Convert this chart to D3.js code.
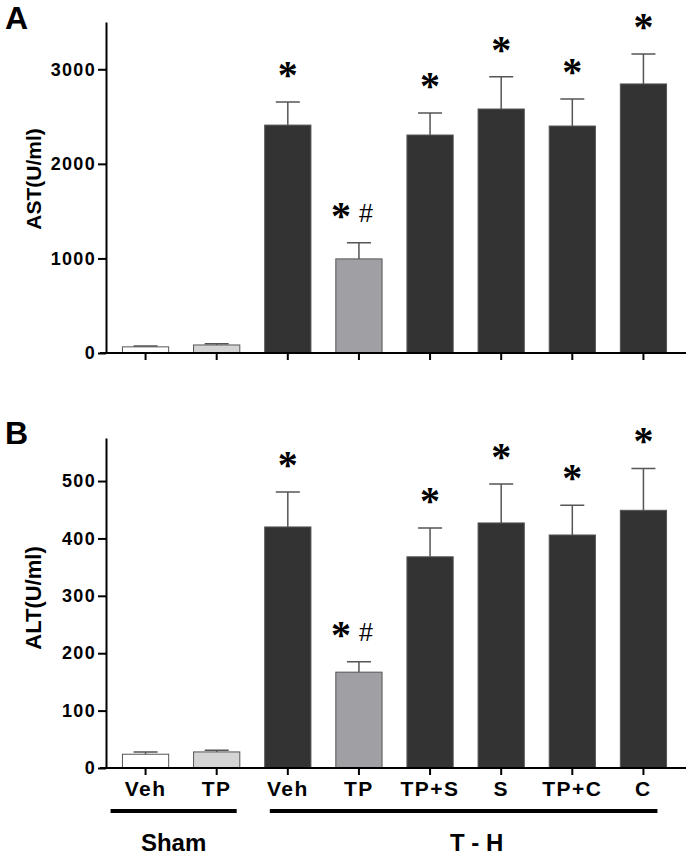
<!DOCTYPE html>
<html><head><meta charset="utf-8">
<script src="https://cdn.jsdelivr.net/npm/d3@7"></script>
<style>
body{margin:0;background:#fff}
svg{display:block}
text{font-family:"Liberation Sans",Arial,sans-serif;font-weight:bold;fill:#000}
</style>
</head><body><svg id="chart" width="692" height="855"></svg>
<script>
// ---- data ----
const categories = ["Veh", "TP", "Veh", "TP", "TP+S", "S", "TP+C", "C"];
const astMean = [65, 85, 2410, 995, 2305, 2580, 2400, 2845];
const astErr  = [8, 12, 243, 170, 233, 340, 285, 317];
const altMean = [24, 28, 420, 167, 368, 427, 406, 449];
const altErr  = [4, 3, 61, 18, 50, 68, 52, 73];
const astTicks = [0, 1000, 2000, 3000];
const altTicks = [0, 100, 200, 300, 400, 500];
const annotations = ["", "", "*", "* #", "*", "*", "*", "*"];
const groupNames = ["Sham", "T - H"];
const groupFirst = [0, 2];
const groupLast = [1, 7];

// ---- styles / layout ----
const barFills = ["#ffffff", "#d4d4d4", "#333333", "#a0a0a4", "#333333", "#333333", "#333333", "#333333"];
const groupPad = [[-35, 20], [-18, 14]];
const groupLabelShift = [0, 13];

const svg = d3.select("#chart");
const keys = categories.map((c, i) => c + "_" + i);
const x = d3.scaleBand().domain(keys).range([110, 679]).paddingInner(0.35).paddingOuter(0.175);
const bw = x.bandwidth();
const cx = i => x(keys[i]) + bw / 2;

const panels = [
  {letter: "A", letterY: 29, title: "AST(U/ml)", titleY: 179, titleSize: 21,
   mean: astMean, err: astErr, ticks: astTicks, max: 3500, top: 22, bottom: 353, labels: false},
  {letter: "B", letterY: 444, title: "ALT(U/ml)", titleY: 598, titleSize: 22,
   mean: altMean, err: altErr, ticks: altTicks, max: 575, top: 438, bottom: 768, labels: true}
];

panels.forEach(p => {
  const y = d3.scaleLinear().domain([0, p.max]).range([p.bottom, p.top]);
  const g = svg.append("g");

  // bars
  g.selectAll("rect.bar").data(p.mean).join("rect")
    .attr("x", (d, i) => x(keys[i])).attr("width", bw)
    .attr("y", d => y(d)).attr("height", d => y(0) - y(d))
    .attr("fill", (d, i) => barFills[i])
    .attr("stroke", "#555").attr("stroke-width", 1);

  // error bars (upper only)
  g.selectAll("path.err").data(p.mean).join("path")
    .attr("d", (d, i) => {
      const xc = cx(i), y0 = y(d), y1 = y(d + p.err[i]);
      return `M${xc},${y0}V${y1}M${xc - 12},${y1}H${xc + 12}`;
    })
    .attr("fill", "none").attr("stroke", "#555").attr("stroke-width", 1.5);

  // annotations
  p.mean.forEach((d, i) => {
    const a = annotations[i];
    if (!a) return;
    const t = g.append("text").attr("x", cx(i) - (a.length > 1 ? 7 : 0))
      .attr("y", y(d + p.err[i]) - 14).attr("text-anchor", "middle")
      .style("font-weight", "normal");
    a.split(" ").forEach(tok => {
      if (tok === "*") t.append("tspan").text("*")
        .style("font-family", '"Liberation Serif","Times New Roman",serif')
        .style("font-weight", "bold").style("font-size", "40px");
      else t.append("tspan").text(tok).style("font-size", "25px").attr("dx", 8).attr("dy", -7);
    });
  });

  // y axis
  const ya = g.append("g").attr("transform", "translate(106,0)")
    .call(d3.axisLeft(y).tickValues(p.ticks).tickSize(8).tickPadding(2).tickSizeOuter(0).tickFormat(d3.format("d")));
  ya.select(".domain").attr("stroke-width", 2).attr("stroke", "#000");
  ya.selectAll(".tick line").attr("stroke-width", 2).attr("stroke", "#000");
  ya.selectAll(".tick text").style("font-size", "18px").style("letter-spacing", "1.3px").attr("fill", "#000");

  // x axis
  const xa = g.append("g").attr("transform", `translate(0,${p.bottom})`)
    .call(d3.axisBottom(x).tickSize(7).tickPadding(6).tickSizeOuter(0)
      .tickFormat((d, i) => p.labels ? categories[i] : ""));
  xa.select(".domain").remove();
  xa.selectAll(".tick line").attr("stroke-width", 2).attr("stroke", "#000");
  xa.selectAll(".tick text").style("font-size", "21px").style("letter-spacing", "1.5px").attr("fill", "#000");
  g.append("line").attr("x1", 100).attr("x2", 686).attr("y1", p.bottom).attr("y2", p.bottom)
    .attr("stroke", "#000").attr("stroke-width", 2);

  // titles
  g.append("text").text(p.letter).attr("x", 5).attr("y", p.letterY).style("font-size", "32px");
  g.append("text").text(p.title).attr("text-anchor", "middle")
    .attr("transform", `translate(41,${p.titleY}) rotate(-90)`).style("font-size", p.titleSize + "px");
});

// group lines
groupNames.forEach((name, k) => {
  const x1 = cx(groupFirst[k]) + groupPad[k][0];
  const x2 = cx(groupLast[k]) + groupPad[k][1];
  svg.append("line").attr("x1", x1).attr("x2", x2).attr("y1", 811).attr("y2", 811)
    .attr("stroke", "#000").attr("stroke-width", 4);
  svg.append("text").text(name).attr("x", (x1 + x2) / 2 + groupLabelShift[k]).attr("y", 851)
    .attr("text-anchor", "middle").style("font-size", "24px");
});
</script>
</body></html>
